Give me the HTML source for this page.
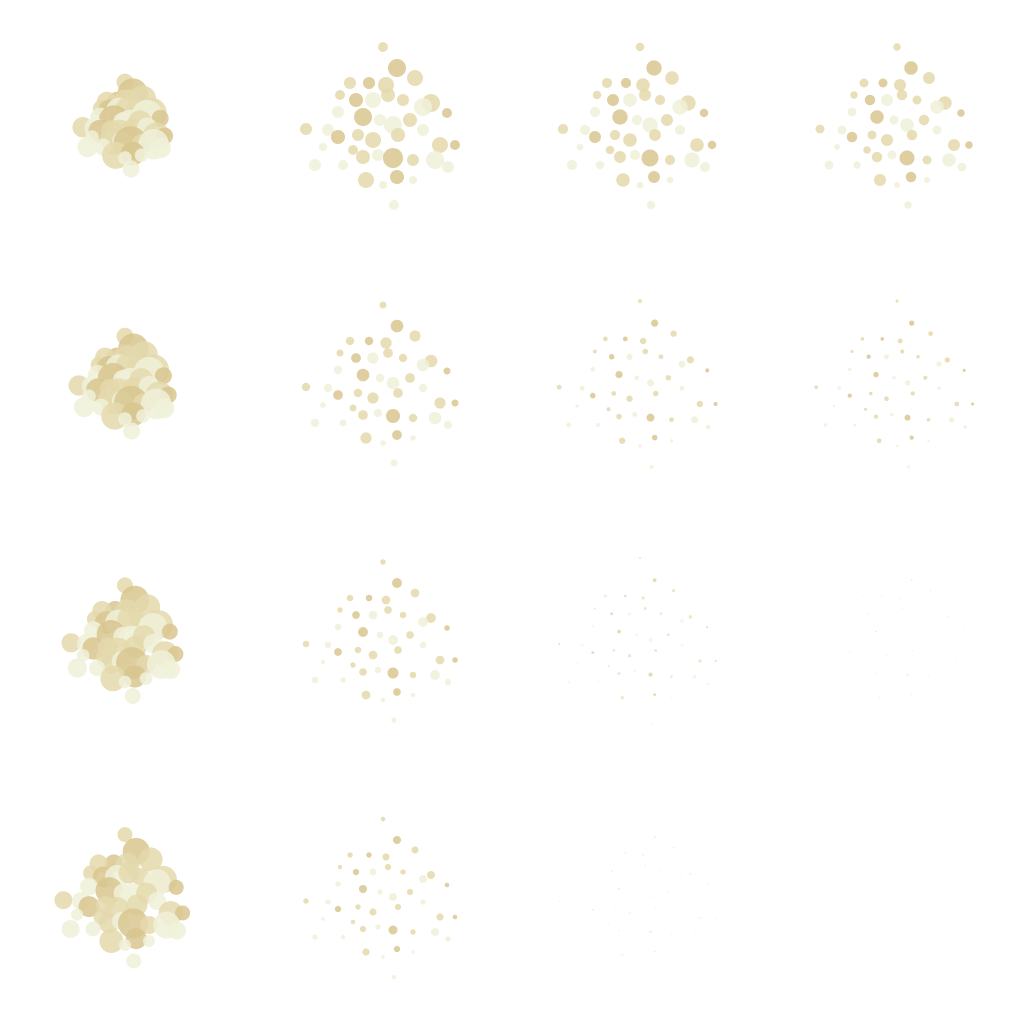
<!DOCTYPE html>
<html><head><meta charset="utf-8"><style>
html,body{margin:0;padding:0;background:#fff;width:1027px;height:1027px;overflow:hidden}
</style></head><body>
<svg id="chart" width="1027" height="1027" viewBox="0 0 1027 1027" xmlns="http://www.w3.org/2000/svg"></svg>
<script>
// base layout (offset from panel centre, radius, shade index)
const baseDx = [0,14,32,-14,-33,3,-43,-27,-10,5,20,48,40,64,-45,-20,-3,10,27,-77,-55,-45,-25,-10,15,40,57,72,-30,-20,-5,10,30,52,-68,-40,-17,14,30,65,11,0,-60];
const baseDy = [-78,-57,-47,-42,-42,-40,-30,-25,-25,-30,-25,-22,-18,-12,-13,-8,-5,0,-5,4,5,12,10,15,10,5,20,20,25,32,30,33,35,35,40,40,55,52,55,42,80,60,22];
const baseR  = [5,9,8,6,6,8,5,7,8,7,6,9,9,5,6,9,6,9,7,6,6,7,6,8,7,6,8,5,5,7,6,10,6,9,6,5,8,7,4,6,5,4,4];
const baseShade = [1,0,1,0,1,1,1,0,2,1,1,1,2,0,2,0,2,2,1,1,2,0,1,1,1,2,1,0,1,1,2,0,1,2,2,2,1,0,2,2,2,2,2];
const colCenters = [125,383,640,897];
const rowCenters = [125,383,640,897];
// per-panel spread, radius scale and opacity (row-major)
const spread = [[0.55,1,1,1],[0.6,1,1.05,1.05],[0.7,1,1.05,1.05],[0.8,1,1.05,1.05]];
const sizeScale = [[1.7,1,0.85,0.75],[1.7,0.7,0.4,0.3],[1.6,0.55,0.2,0.1],[1.5,0.45,0.12,0.06]];
const alphaScale = [[0.85,0.85,0.85,0.85],[0.85,0.85,0.85,0.85],[0.85,0.85,0.65,0.35],[0.85,0.85,0.35,0.2]];
const shades = ["#d8c68f","#e4d9ad","#f0f1d9"];
const svg = document.getElementById('chart');
const NS = "http://www.w3.org/2000/svg";
for (let r=0;r<4;r++) for (let c=0;c<4;c++){
  const g = document.createElementNS(NS,'g');
  
  
  const s = spread[r][c], k = sizeScale[r][c];
  for (let i=0;i<baseDx.length;i++){
    const ci = document.createElementNS(NS,'circle');
    ci.setAttribute('cx', colCenters[c] + baseDx[i]*s);
    ci.setAttribute('cy', rowCenters[r] + baseDy[i]*s);
    ci.setAttribute('r', Math.max(0.4, baseR[i]*k));
    ci.setAttribute('fill', shades[baseShade[i]]);
    ci.setAttribute('fill-opacity', alphaScale[r][c]);
    
    
    g.appendChild(ci);
  }
  svg.appendChild(g);
}
</script>
</body></html>
